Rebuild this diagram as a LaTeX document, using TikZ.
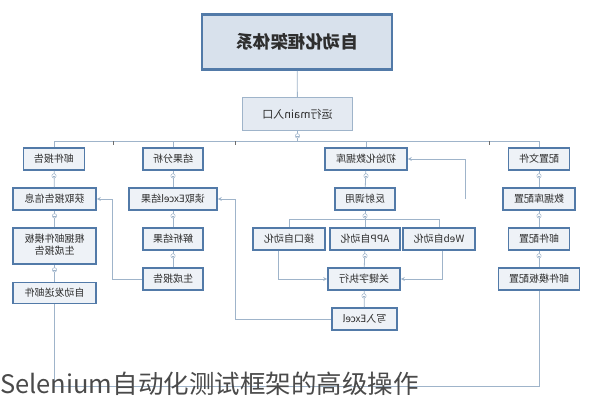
\documentclass[tikz,border=0pt]{standalone}
\usepackage{fontspec}
\setmainfont{Noto Sans CJK SC}
\usepackage{graphicx}
\usetikzlibrary{arrows.meta}
\definecolor{edge}{HTML}{527AA8}
\definecolor{boxfill}{HTML}{EEF2F7}
\definecolor{topfill}{HTML}{D8E1EC}
\definecolor{wirec}{HTML}{9FB4CA}
\definecolor{ink}{HTML}{2E2E2E}
\definecolor{capc}{HTML}{4A4A4A}
\newcommand{\rf}[1]{\reflectbox{#1}}

\begin{document}
\begin{tikzpicture}[x=1pt,y=-1pt,
    box/.style={draw=edge,line width=1.7pt,fill=boxfill,text=ink,inner sep=0pt,
      minimum height=22pt,font=\fontsize{10}{11.5}\selectfont},
    wire/.style={draw=wirec,line width=0.8pt},
    arr/.style={wire,-{Stealth[length=4pt,width=4pt]}},
    fold/.style={draw=wirec,fill=white,line width=0.5pt}]
    \useasboundingbox (0,0) rectangle (594,400);
    % head
    \node[box,line width=2.8pt,fill=topfill,minimum width=190pt,minimum height=55pt,
      font=\fontsize{17.5}{20}\selectfont\bfseries] (a) at (297,42) {\rf{自动化框架体系}};
    \node[box,line width=0.8pt,draw=wirec,fill=topfill!70!white,minimum width=110pt,minimum height=33pt,
      font=\fontsize{11}{13}\selectfont] (b) at (297.5,114) {\rf{运行main入口}};
    % first level
    \node[box,minimum width=61pt] (c) at (54,159) {\rf{邮件报告}};
    \node[box,minimum width=60pt] (d) at (173,159) {\rf{结果分析}};
    \node[box,minimum width=82pt] (e) at (366,159) {\rf{初始化数据库}};
    \node[box,minimum width=61pt] (f) at (539,159) {\rf{配置文件}};
    % report column
    \node[box,minimum width=83pt] (g) at (54.5,199) {\rf{获取报告信息}};
    \node[box,minimum width=83pt,minimum height=36pt] (h) at (54.5,246)
      {\rf{\begin{tabular}{@{}c@{}}根据邮件模板\\生成报告\end{tabular}}};
    \node[box,minimum width=83pt,minimum height=21pt] (i) at (54.5,293) {\rf{自动发送邮件}};
    % result column
    \node[box,minimum width=88pt] (j) at (173,199) {\rf{读取Excel结果}};
    \node[box,minimum width=60pt] (k) at (173,239) {\rf{解析结果}};
    \node[box,minimum width=60pt] (l) at (173,279) {\rf{生成报告}};
    % run column
    \node[box,minimum width=60pt] (m) at (365,199) {\rf{反射调用}};
    \node[box,minimum width=72pt] (n) at (289,239) {\rf{接口自动化}};
    \node[box,minimum width=70pt] (o) at (365,239) {\rf{APP自动化}};
    \node[box,minimum width=72pt] (p) at (439,239) {\rf{Web自动化}};
    \node[box,minimum width=72pt] (q) at (364,279) {\rf{关键字执行}};
    \node[box,minimum width=65pt] (r) at (364.5,319) {\rf{写入Excel}};
    % config column
    \node[box,minimum width=72pt] (s) at (539,199) {\rf{数据库配置}};
    \node[box,minimum width=61pt] (t) at (539,239) {\rf{邮件配置}};
    \node[box,minimum width=81pt] (u) at (539,279) {\rf{邮件模板配置}};

    \coordinate (bus) at (0,141);
    \coordinate (fork) at (0,219);
    \coordinate (w) at (465,199);

    \draw[wire] (a) -- (b);
    \draw[wire] (b) -- (b.south |- bus);
    \draw[wire] (c.north) -- (c.north |- bus) -- (f.north |- bus) -- (f.north);
    \draw[wire] (d.north) -- (d.north |- bus);
    \draw[wire] (e.north) -- (e.north |- bus);
    \foreach \x in {113,235,489}
      \draw[wire,draw=ink!70] (\x,141) -- (\x,145);
    \draw[wire] (c) -- (g);
    \draw[wire] (g) -- (h);
    \draw[wire] (h) -- (i);
    \draw[wire] (d) -- (j);
    \draw[wire] (j) -- (k);
    \draw[wire] (k) -- (l);
    \draw[wire] (e) -- (m);
    \draw[wire] (m) -- (m.south |- fork);
    \draw[wire] (n.north) -- (n.north |- fork) -- (p.north |- fork) -- (p.north);
    \draw[wire] (o.north) -- (o.north |- fork);
    \draw[arr] ([xshift=-11]n.south) |- (q.west);
    \draw[arr] ([xshift=3]p.south) |- (q.east);
    \draw[wire] (o) -- (q);
    \draw[wire] (q) -- (r);
    \draw[wire] (f) -- (s);
    \draw[wire] (s) -- (t);
    \draw[wire] (t) -- (u);
    \draw[arr] (l.west) -- ++(-30,0) |- (g.east);
    \draw[arr] (r.west) -- (r.west -| 235,0) |- (j.east);
    \draw[arr] (w) |- (e.east);
    \draw[wire] (i.south) -- (i.south |- 0,386) -| (u.south);
    % fold marks
    \foreach \n in {b,c,g,h,d,j,k,e,m,o,q,f,s,t} {
      \draw[fold] ([yshift=-5]\n.south) circle (2.2);
      \draw[wire,line width=0.4pt] ([yshift=-5,xshift=-1.2]\n.south) -- ([yshift=-5,xshift=1.2]\n.south);
    }
    \node[anchor=base west,inner sep=0pt,text=capc,font=\fontsize{25.5}{28}\selectfont] (cap) at (0,393)
      {Selenium自动化测试框架的高级操作};
\end{tikzpicture}
\end{document}
